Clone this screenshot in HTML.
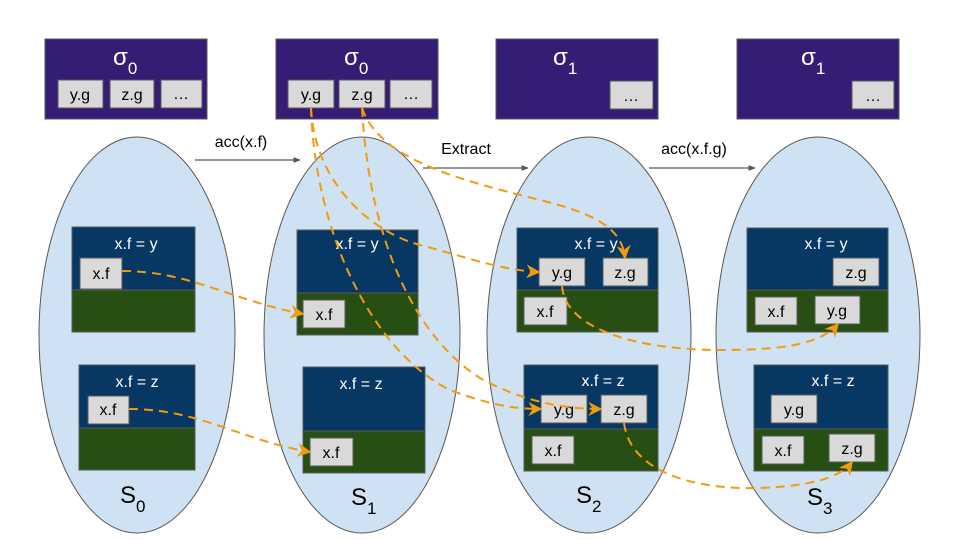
<!DOCTYPE html>
<html><head><meta charset="utf-8"><style>
body{margin:0;background:#fff}
svg{display:block}
text{font-family:"Liberation Sans",sans-serif}
</style></head><body>
<svg width="960" height="540" viewBox="0 0 960 540" xmlns="http://www.w3.org/2000/svg">
<defs>
<marker id="oa" viewBox="0 0 10 10" refX="9" refY="5" markerWidth="7" markerHeight="7" orient="auto"><path d="M0,0 L10,5 L0,10 L3,5z" fill="#f29b0c"/></marker>
<marker id="ga" viewBox="0 0 10 10" refX="9" refY="5" markerWidth="6" markerHeight="6" orient="auto"><path d="M0,1 L10,5 L0,9z" fill="#555"/></marker>
</defs>
<g stroke="#595959" stroke-width="1">
<ellipse cx="137" cy="335" rx="98" ry="198" fill="#cfe2f3"/>
<ellipse cx="362" cy="335" rx="98" ry="198" fill="#cfe2f3"/>
<ellipse cx="589" cy="335" rx="102" ry="198" fill="#cfe2f3"/>
<ellipse cx="818" cy="335" rx="102" ry="198" fill="#cfe2f3"/>
<rect x="45" y="39" width="162" height="80" fill="#351c75"/>
<rect x="276" y="39" width="162" height="80" fill="#351c75"/>
<rect x="496" y="39" width="162" height="80" fill="#351c75"/>
<rect x="737" y="39" width="162" height="80" fill="#351c75"/>
<g fill="#d9d9d9">
<rect x="58" y="80" width="45" height="28"/><rect x="110" y="80" width="44" height="28"/><rect x="161" y="80" width="41" height="28"/>
<rect x="288" y="80" width="46" height="28"/><rect x="339" y="80" width="46" height="28"/><rect x="390" y="80" width="42" height="28"/>
<rect x="610" y="81" width="43" height="28"/><rect x="852" y="81" width="42" height="28"/>
</g>
<rect x="72" y="227" width="123" height="63" fill="#073763"/><rect x="72" y="290" width="123" height="42" fill="#274e13"/>
<rect x="79" y="365" width="116" height="63" fill="#073763"/><rect x="79" y="428" width="116" height="42" fill="#274e13"/>
<rect x="297" y="230" width="121" height="63" fill="#073763"/><rect x="297" y="293" width="121" height="42" fill="#274e13"/>
<rect x="303" y="367" width="122" height="64" fill="#073763"/><rect x="303" y="431" width="122" height="42" fill="#274e13"/>
<rect x="517" y="228" width="141" height="62" fill="#073763"/><rect x="517" y="290" width="141" height="42" fill="#274e13"/>
<rect x="524" y="365" width="134" height="64" fill="#073763"/><rect x="524" y="429" width="134" height="42" fill="#274e13"/>
<rect x="747" y="228" width="141" height="62" fill="#073763"/><rect x="747" y="290" width="141" height="42" fill="#274e13"/>
<rect x="754" y="365" width="134" height="64" fill="#073763"/><rect x="754" y="429" width="134" height="42" fill="#274e13"/>
<g fill="#d9d9d9">
<rect x="80" y="258" width="42" height="31"/><rect x="88" y="396" width="41" height="28"/>
<rect x="303" y="300" width="42" height="28"/><rect x="310" y="438" width="43" height="28"/>
<rect x="539" y="258" width="46" height="28"/><rect x="603" y="258" width="45" height="28"/><rect x="524" y="297" width="43" height="28"/>
<rect x="541" y="395" width="46" height="28"/><rect x="601" y="395" width="46" height="28"/><rect x="532" y="436" width="42" height="28"/>
<rect x="833" y="258" width="46" height="28"/><rect x="755" y="297" width="42" height="28"/><rect x="815" y="296" width="45" height="28"/>
<rect x="771" y="395" width="46" height="28"/><rect x="762" y="436" width="42" height="28"/><rect x="829" y="434" width="46" height="28"/>
</g>
</g>
<g stroke="#595959" stroke-width="1.2" fill="none">
<line x1="195" y1="160" x2="300" y2="160" marker-end="url(#ga)"/>
<line x1="423" y1="168" x2="528" y2="168" marker-end="url(#ga)"/>
<line x1="649" y1="168" x2="755" y2="168" marker-end="url(#ga)"/>
</g>
<g font-size="16" fill="#000">
<text x="241" y="147" text-anchor="middle">acc(x.f)</text>
<text x="466" y="154" text-anchor="middle">Extract</text>
<text x="694" y="154" text-anchor="middle">acc(x.f.g)</text>
</g>
<g fill="#fff" font-size="24">
<text x="113" y="65">σ<tspan font-size="17" dy="9">0</tspan></text>
<text x="344" y="65">σ<tspan font-size="17" dy="9">0</tspan></text>
<text x="553" y="65">σ<tspan font-size="17" dy="9">1</tspan></text>
<text x="801" y="65">σ<tspan font-size="17" dy="9">1</tspan></text>
</g>
<g font-size="16" fill="#000" text-anchor="middle">
<text x="80" y="100">y.g</text><text x="132" y="100">z.g</text><text x="181" y="99">…</text>
<text x="311" y="100">y.g</text><text x="362" y="100">z.g</text><text x="411" y="99">…</text>
<text x="631" y="101">…</text><text x="873" y="101">…</text>
<text x="101" y="279">x.f</text><text x="108" y="415">x.f</text>
<text x="324" y="320">x.f</text><text x="331" y="458">x.f</text>
<text x="562" y="278">y.g</text><text x="625" y="278">z.g</text><text x="545" y="317">x.f</text>
<text x="564" y="415">y.g</text><text x="624" y="415">z.g</text><text x="553" y="456">x.f</text>
<text x="856" y="278">z.g</text><text x="776" y="317">x.f</text><text x="837" y="316">y.g</text>
<text x="794" y="415">y.g</text><text x="783" y="456">x.f</text><text x="852" y="454">z.g</text>
</g>
<g font-size="16" fill="#fff" text-anchor="middle">
<text x="136" y="249">x.f = y</text><text x="137" y="387">x.f = z</text>
<text x="357" y="249">x.f = y</text><text x="361" y="389">x.f = z</text>
<text x="596" y="249">x.f = y</text><text x="603" y="386">x.f = z</text>
<text x="826" y="249">x.f = y</text><text x="833" y="386">x.f = z</text>
</g>
<g font-size="24" fill="#000">
<text x="120" y="503">S<tspan font-size="17" dy="9">0</tspan></text>
<text x="351" y="505">S<tspan font-size="17" dy="9">1</tspan></text>
<text x="576" y="503">S<tspan font-size="17" dy="9">2</tspan></text>
<text x="807" y="505">S<tspan font-size="17" dy="9">3</tspan></text>
</g>
<g stroke="#f29b0c" stroke-width="2" fill="none" stroke-dasharray="9,6" marker-end="url(#oa)">
<path d="M122,271 C190,271 230,300 303,314"/>
<path d="M129,409 C200,409 240,440 310,452"/>
<path d="M311,108 C315,190 380,235 420,245 C470,258 500,270 539,272"/>
<path d="M311,108 C315,230 370,350 450,390 C490,405 515,409 541,409"/>
<path d="M362,108 C380,160 460,180 540,200 C600,215 622,230 625,258"/>
<path d="M362,108 C370,250 420,340 480,378 C520,400 560,409 601,409"/>
<path d="M562,286 C565,330 640,350 720,350 C780,350 820,345 838,324"/>
<path d="M624,423 C630,470 690,490 760,488 C810,486 840,478 852,462"/>
</g>
</svg>
</body></html>
